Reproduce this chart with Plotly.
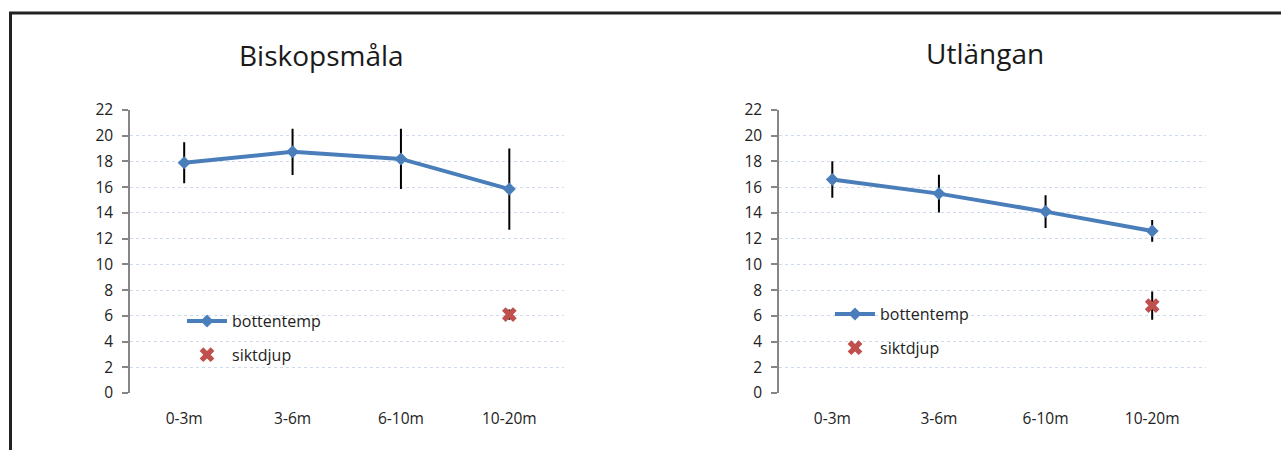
import plotly.graph_objects as go

categories = ["0-3m", "3-6m", "6-10m", "10-20m"]
y_ticks = list(range(0, 23, 2))

# Biskopsmåla
bisk_temp = [17.9, 18.75, 18.2, 15.85]
bisk_temp_err = [1.6, 1.8, 2.35, 3.15]
bisk_sikt = [None, None, None, 6.1]
bisk_sikt_err = [0, 0, 0, 0.4]

# Utlängan
utl_temp = [16.6, 15.5, 14.1, 12.6]
utl_temp_err = [1.42, 1.47, 1.28, 0.84]
utl_sikt = [None, None, None, 6.8]
utl_sikt_err = [0, 0, 0, 1.1]

W, H = 1281, 450
BLUE = "#4a7ebb"
RED = "#c0504d"
FONT = "Open Sans"

def px(x):
    return x / W

def py(y):
    return 1 - y / H

fig = go.Figure()

def add_panel(temp, temp_err, sikt, sikt_err, xa, ya, legend):
    fig.add_trace(go.Scatter(
        x=categories, y=temp, name="bottentemp", mode="lines+markers",
        line=dict(color=BLUE, width=4),
        marker=dict(symbol="diamond", size=10, color=BLUE),
        error_y=dict(type="data", array=temp_err, color="black", thickness=2, width=0),
        xaxis=xa, yaxis=ya, legend=legend, legendgroup=legend + "a",
    ))
    fig.add_trace(go.Scatter(
        x=categories, y=sikt, name="siktdjup", mode="markers",
        marker=dict(symbol="x", size=13, color=RED),
        error_y=dict(type="data", array=sikt_err, color="black", thickness=2, width=0),
        xaxis=xa, yaxis=ya, legend=legend, legendgroup=legend + "b",
    ))

add_panel(bisk_temp, bisk_temp_err, bisk_sikt, bisk_sikt_err, "x", "y", "legend")
add_panel(utl_temp, utl_temp_err, utl_sikt, utl_sikt_err, "x2", "y2", "legend2")

xcommon = dict(type="category", range=[-0.5, 3.5], showgrid=False, showline=False,
               ticks="", zeroline=False, tickfont=dict(family=FONT, size=15.5, color="#222"),
               ticklabelstandoff=14, fixedrange=True, automargin=False)
ycommon = dict(range=[0, 22], tickvals=y_ticks, showline=True, linecolor="#868686",
               linewidth=1.5, ticks="outside", ticklen=6, tickcolor="#868686",
               tickwidth=1.5, showgrid=True, gridcolor="#cfdbec", griddash="dot",
               gridwidth=1, zeroline=False,
               tickfont=dict(family=FONT, size=15.5, color="#222"),
               ticklabelstandoff=6, domain=[py(393), py(110)], fixedrange=True,
               automargin=False)

legcommon = dict(font=dict(family=FONT, size=16, color="#222"), bgcolor="rgba(0,0,0,0)",
                 traceorder="grouped", tracegroupgap=10, xanchor="left", yanchor="top",
                 itemwidth=40)

fig.update_layout(
    width=W, height=H,
    margin=dict(l=0, r=0, t=0, b=0, autoexpand=False),
    paper_bgcolor="white", plot_bgcolor="white",
    showlegend=True,
    xaxis=dict(domain=[px(130), px(563.5)], anchor="y", **xcommon),
    yaxis=dict(anchor="x", **ycommon),
    xaxis2=dict(domain=[px(779), px(1205.5)], anchor="y2", **xcommon),
    yaxis2=dict(anchor="x2", **ycommon),
    legend=dict(x=px(182), y=py(304), **legcommon),
    legend2=dict(x=px(830), y=py(297), **legcommon),
    annotations=[
        dict(text="Biskopsmåla", x=px(321), y=py(55), xref="paper", yref="paper",
             xanchor="center", yanchor="middle",
             showarrow=False, font=dict(family=FONT, size=28, color="#1a1a1a")),
        dict(text="Utlängan", x=px(985), y=py(53), xref="paper", yref="paper",
             xanchor="center", yanchor="middle",
             showarrow=False, font=dict(family=FONT, size=28, color="#1a1a1a")),
    ],
    shapes=[
        dict(type="line", xref="paper", yref="paper", x0=px(10.5), x1=px(10.5),
             y0=0, y1=py(12), line=dict(color="#222", width=3)),
        dict(type="line", xref="paper", yref="paper", x0=px(9), x1=1,
             y0=py(13), y1=py(13), line=dict(color="#222", width=3)),
    ],
)

fig.write_html("out.html", config=dict(displayModeBar=False))
